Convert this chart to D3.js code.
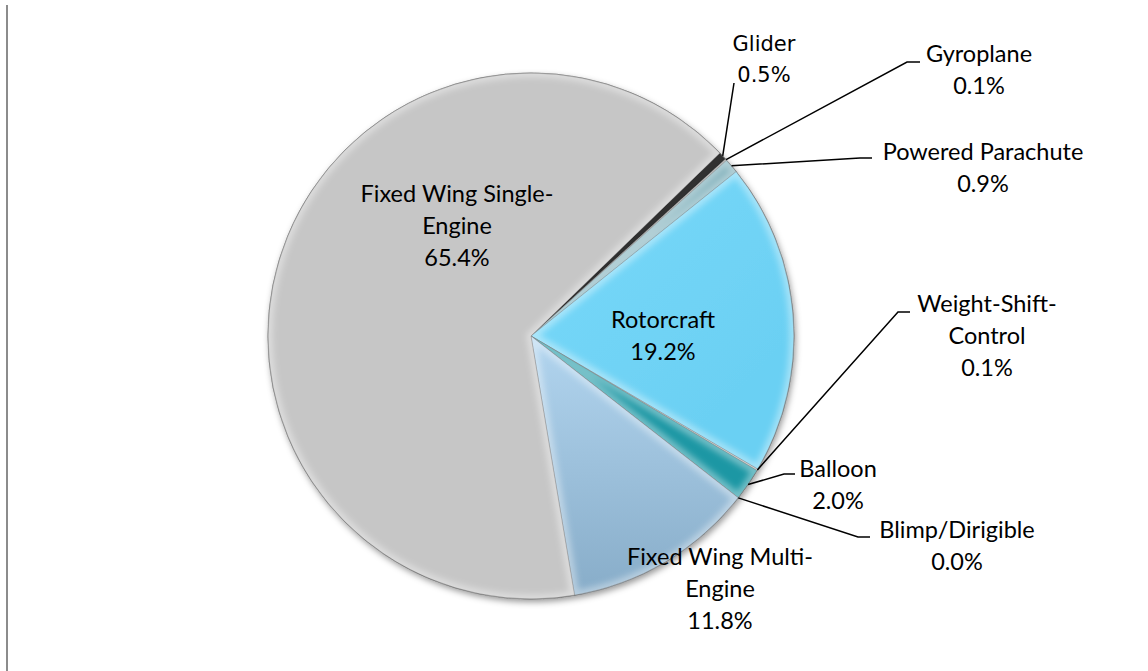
<!DOCTYPE html>
<html><head><meta charset="utf-8">
<script src="https://cdn.jsdelivr.net/npm/d3@7"></script>
<style>body{margin:0;background:#fff}svg{display:block}</style>
</head><body><svg id="chart" width="1148" height="671"></svg>
<script>
// Share of aircraft by category (percent), clockwise from the Glider slice
const categories = ["Glider", "Gyroplane", "Powered Parachute", "Rotorcraft", "Weight-Shift-Control",
  "Balloon", "Blimp/Dirigible", "Fixed Wing Multi-Engine", "Fixed Wing Single-Engine"];
const shares = [0.5, 0.1, 0.9, 19.2, 0.1, 2.0, 0.0, 11.8, 65.4];
const labelLines = [["Glider"], ["Gyroplane"], ["Powered Parachute"], ["Rotorcraft"],
  ["Weight-Shift-", "Control"], ["Balloon"], ["Blimp/Dirigible"],
  ["Fixed Wing Multi-", "Engine"], ["Fixed Wing Single-", "Engine"]];
const sliceColors = ["#0a0a0a", "#9a9a9a", "#7eafba", "#6fd2f5", "#b4b4b4",
  "#1b97a4", "#5a8fa0", "#a3c7e1", "#c6c6c6"];

// Label placement: first baseline, optional leader elbow and end point
const labelLayout = [
  {x: 764, y: 51, font: "DejaVu Sans", size: 21, end: [734, 83]},
  {x: 979, y: 62, elbow: [907, 62], end: [920, 62]},
  {x: 983, y: 160, elbow: [860, 158], end: [872, 158]},
  {x: 663, y: 328},
  {x: 987, y: 312, elbow: [898, 312], end: [910, 312]},
  {x: 838, y: 477, elbow: [784, 474], end: [795, 474]},
  {x: 957, y: 538, elbow: [858, 537], end: [870, 537]},
  {x: 720, y: 565},
  {x: 457, y: 202}
];

const W = 1148, H = 671;
const cx = 531, cy = 336, R = 263;
const startDeg = 45.9;
const lineGap = 32;

const svg = d3.select("#chart");
const defs = svg.append("defs");

// Frame edge on the left
svg.append("line").attr("x1", 7).attr("x2", 7).attr("y1", 5).attr("y2", H)
  .attr("stroke", "#8c8c8c").attr("stroke-width", 2);

const shadow = defs.append("filter").attr("id", "shadow")
  .attr("x", "-10%").attr("y", "-10%").attr("width", "120%").attr("height", "120%");
shadow.append("feDropShadow").attr("dx", 1.5).attr("dy", 3).attr("stdDeviation", 3)
  .attr("flood-color", "#000").attr("flood-opacity", 0.4);

const soft = defs.append("filter").attr("id", "soft")
  .attr("x", "-20%").attr("y", "-20%").attr("width", "140%").attr("height", "140%");
soft.append("feGaussianBlur").attr("stdDeviation", 3);

// Shading for the multi-engine slice (coordinates local to the pie centre)
const grad = defs.append("linearGradient").attr("id", "gradMulti")
  .attr("gradientUnits", "userSpaceOnUse")
  .attr("x1", 0).attr("y1", 0).attr("x2", 0).attr("y2", R);
grad.append("stop").attr("offset", 0).attr("stop-color", "#b2d5ef");
grad.append("stop").attr("offset", 1).attr("stop-color", "#87acc8");

const gradRotor = defs.append("linearGradient").attr("id", "gradRotor")
  .attr("gradientUnits", "userSpaceOnUse")
  .attr("x1", 0).attr("y1", -R).attr("x2", R).attr("y2", 0);
gradRotor.append("stop").attr("offset", 0).attr("stop-color", "#7cdbfb");
gradRotor.append("stop").attr("offset", 1).attr("stop-color", "#6bd0f3");

const data = categories.map((c, i) => ({name: c, value: shares[i], i}));
const pie = d3.pie().sort(null).value(d => d.value)
  .startAngle(startDeg * Math.PI / 180)
  .endAngle(startDeg * Math.PI / 180 + 2 * Math.PI);
const arcs = pie(data);
const arc = d3.arc().innerRadius(0).outerRadius(R);

const g = svg.append("g").attr("transform", `translate(${cx},${cy})`);
const pieG = g.append("g").attr("filter", "url(#shadow)");

const fillFor = d => d.data.i === 7 ? "url(#gradMulti)" : d.data.i === 3 ? "url(#gradRotor)" : sliceColors[d.data.i];

arcs.forEach((d, k) => {
  const id = "clip" + k;
  defs.append("clipPath").attr("id", id).append("path")
    .attr("transform", `translate(${cx},${cy})`).attr("d", arc(d));
  pieG.append("path").attr("d", arc(d)).attr("fill", fillFor(d))
    .attr("stroke", "rgba(60,60,60,0.45)").attr("stroke-width", 0.8);
});

// Bevel rim: blurred light stroke kept inside each slice
const rimG = svg.append("g");
arcs.forEach((d, k) => {
  if (d.value === 0) return;
  rimG.append("g").attr("clip-path", `url(#clip${k})`)
    .append("path").attr("transform", `translate(${cx},${cy})`).attr("d", arc(d))
    .attr("fill", "none").attr("stroke", "#ffffff")
    .attr("stroke-opacity", d.data.i === 0 ? 0.15 : 0.4)
    .attr("stroke-width", 9).attr("filter", "url(#soft)");
});
// Outer outline
g.append("circle").attr("r", R).attr("fill", "none")
  .attr("stroke", "rgba(90,90,90,0.55)").attr("stroke-width", 1);

// Leader lines from each outside slice to its label
const fmt = d3.format(".1f");
arcs.forEach((d, k) => {
  const L = labelLayout[k];
  if (!L.end) return;
  const mid = (d.startAngle + d.endAngle) / 2;
  const p0 = [cx + R * Math.sin(mid), cy - R * Math.cos(mid)];
  const pts = L.elbow ? [p0, L.elbow, L.end] : [p0, L.end];
  svg.append("polyline").attr("points", pts.map(p => p.join(",")).join(" "))
    .attr("fill", "none").attr("stroke", "#000").attr("stroke-width", 1.5);
});

// Category labels with percentages
arcs.forEach((d, k) => {
  const L = labelLayout[k];
  const lines = labelLines[k].concat([fmt(d.data.value) + "%"]);
  const t = svg.append("text").attr("text-anchor", "middle")
    .attr("font-family", (L.font || "Lato") + ", sans-serif")
    .attr("font-size", L.size || 23.5).attr("fill", "#000");
  lines.forEach((s, j) => {
    t.append("tspan").attr("x", L.x).attr("y", L.y + j * (L.font ? 31 : lineGap)).text(s);
  });
});
</script>
</body></html>
